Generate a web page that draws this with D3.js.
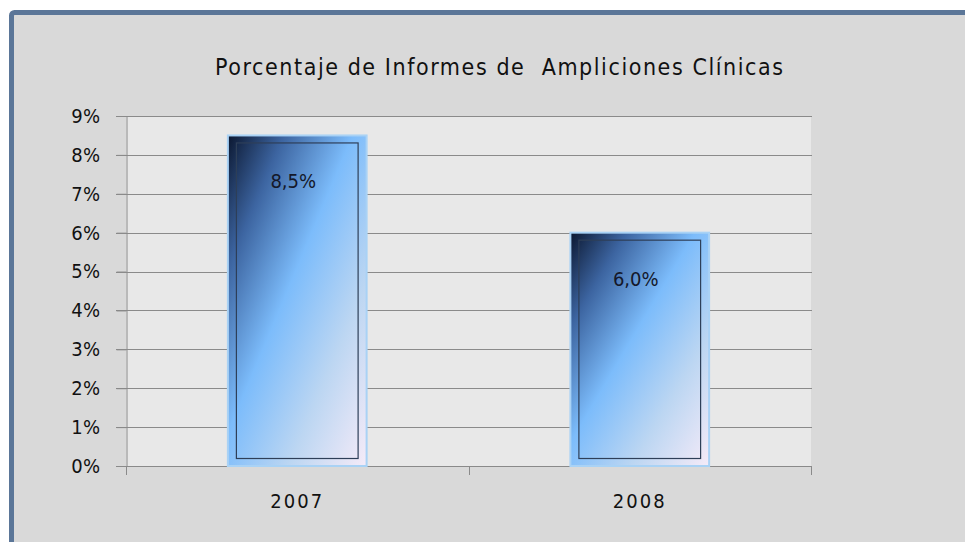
<!DOCTYPE html>
<html>
<head>
<meta charset="utf-8">
<script src="https://cdn.jsdelivr.net/npm/d3@7"></script>
<style>
  body { margin: 0; background: #fff; }
  text { font-family: "DejaVu Sans Condensed", "DejaVu Sans", sans-serif; }
</style>
</head>
<body>
<script>
// data
const years = ['2007', '2008'];
const values = [8.5, 6.0];
const valueLabels = ['8,5%', '6,0%'];
const yTicks = [0, 1, 2, 3, 4, 5, 6, 7, 8, 9];
const title = 'Porcentaje de Informes de\u00a0\u00a0Ampliciones Clínicas';

const width = 965, height = 542;
const plot = {left: 126, right: 811, top: 116, bottom: 466};
const font = '"DejaVu Sans Condensed", "DejaVu Sans", sans-serif';

var svg = d3.select('body')
	.append('svg')
	.attr('width', width)
	.attr('height', height);

// frame
svg.append('rect')
	.attr('x', 11.5)
	.attr('y', 12.5)
	.attr('width', 970)
	.attr('height', 560)
	.attr('fill', '#d9d9d9')
	.attr('stroke', '#5b7698')
	.attr('stroke-width', 5)
	.attr('rx', 3);

// plot background
svg.append('rect')
	.attr('x', plot.left)
	.attr('y', plot.top)
	.attr('width', plot.right - plot.left)
	.attr('height', plot.bottom - plot.top)
	.attr('fill', '#e8e8e8');

let y = d3.scaleLinear()
	.domain([0, 9])
	.range([plot.bottom, plot.top]);

let x = d3.scaleBand()
	.domain(years)
	.range([plot.left, plot.right])
	.padding(0);

// gridlines
svg.append('g')
	.selectAll('line')
	.data(yTicks.slice(1))
	.enter()
		.append('line')
		.attr('x1', plot.left - 10)
		.attr('x2', plot.right + 1)
		.attr('y1', d => Math.round(y(d)) + 0.5)
		.attr('y2', d => Math.round(y(d)) + 0.5)
		.attr('stroke', '#8a8a8a')
		.attr('stroke-width', 1);

// y axis
let yAxis = svg.append('g')
	.attr('transform', `translate(${plot.left + 0.5},0)`)
	.call(d3.axisLeft(y)
		.tickValues(yTicks)
		.tickSize(10)
		.tickPadding(16)
		.tickFormat(d => d + '%'));
yAxis.select('.domain').attr('stroke', '#8a8a8a');
yAxis.selectAll('.tick line').attr('stroke', '#8a8a8a');
yAxis.selectAll('text')
	.attr('font-size', 20)
	.attr('fill', '#111')
	.attr('letter-spacing', 0.3)
	.style('font-family', font);

// x axis
let xAxis = svg.append('g')
	.attr('transform', `translate(0,${plot.bottom + 0.5})`)
	.call(d3.axisBottom(x).tickSize(0).tickPadding(27));
xAxis.select('.domain').attr('stroke', '#8a8a8a').attr('d', `M${plot.left - 10},0H${plot.right + 1}`);
xAxis.selectAll('text')
	.attr('font-size', 20)
	.attr('fill', '#111')
	.attr('letter-spacing', 2)
	.style('font-family', font);

// category separator ticks
svg.append('g')
	.selectAll('line')
	.data(years.concat(['end']))
	.enter()
		.append('line')
		.attr('x1', (d, i) => Math.round(plot.left + i * x.step()) + 0.5)
		.attr('x2', (d, i) => Math.round(plot.left + i * x.step()) + 0.5)
		.attr('y1', plot.bottom)
		.attr('y2', plot.bottom + 9)
		.attr('stroke', '#8a8a8a');

// gradient
let defs = svg.append('defs');
let grad = defs.append('linearGradient')
	.attr('id', 'barGrad')
	.attr('x1', 0).attr('y1', 0)
	.attr('x2', 1).attr('y2', 1);
[
	[0, '#0b1730'],
	[0.2, '#3c64a0'],
	[0.45, '#7cbcfb'],
	[0.72, '#bcd6f2'],
	[1, '#f5ebf8']
].forEach(s => grad.append('stop').attr('offset', s[0]).attr('stop-color', s[1]));

let barW = x.bandwidth() * 0.405;
let bars = svg.append('g')
	.selectAll('g')
	.data(values)
	.enter()
		.append('g');

bars.append('rect')
	.attr('x', (d, i) => x(years[i]) + x.bandwidth() / 2 - barW / 2)
	.attr('y', d => y(d))
	.attr('width', barW)
	.attr('height', d => y(0) - y(d))
	.attr('fill', 'url(#barGrad)')
	.attr('stroke', '#a9d2f5')
	.attr('stroke-width', 2);

bars.append('rect')
	.attr('x', (d, i) => x(years[i]) + x.bandwidth() / 2 - barW / 2 + 8.5)
	.attr('y', d => y(d) + 7.5)
	.attr('width', barW - 17)
	.attr('height', d => y(0) - y(d) - 15)
	.attr('fill', 'none')
	.attr('stroke', '#2e3f58')
	.attr('stroke-width', 1.2);

bars.append('text')
	.attr('x', (d, i) => x(years[i]) + x.bandwidth() / 2 - 4)
	.attr('y', d => y(d) + 53)
	.attr('text-anchor', 'middle')
	.attr('font-size', 20)
	.attr('fill', '#14182a')
	.text((d, i) => valueLabels[i]);

// title
svg.append('text')
	.attr('x', 499)
	.attr('y', 75)
	.attr('text-anchor', 'middle')
	.attr('font-size', 23)
	.attr('fill', '#111')
	.attr('textLength', 568)
	.attr('lengthAdjust', 'spacing')
	.text(title);
</script>
</body>
</html>
